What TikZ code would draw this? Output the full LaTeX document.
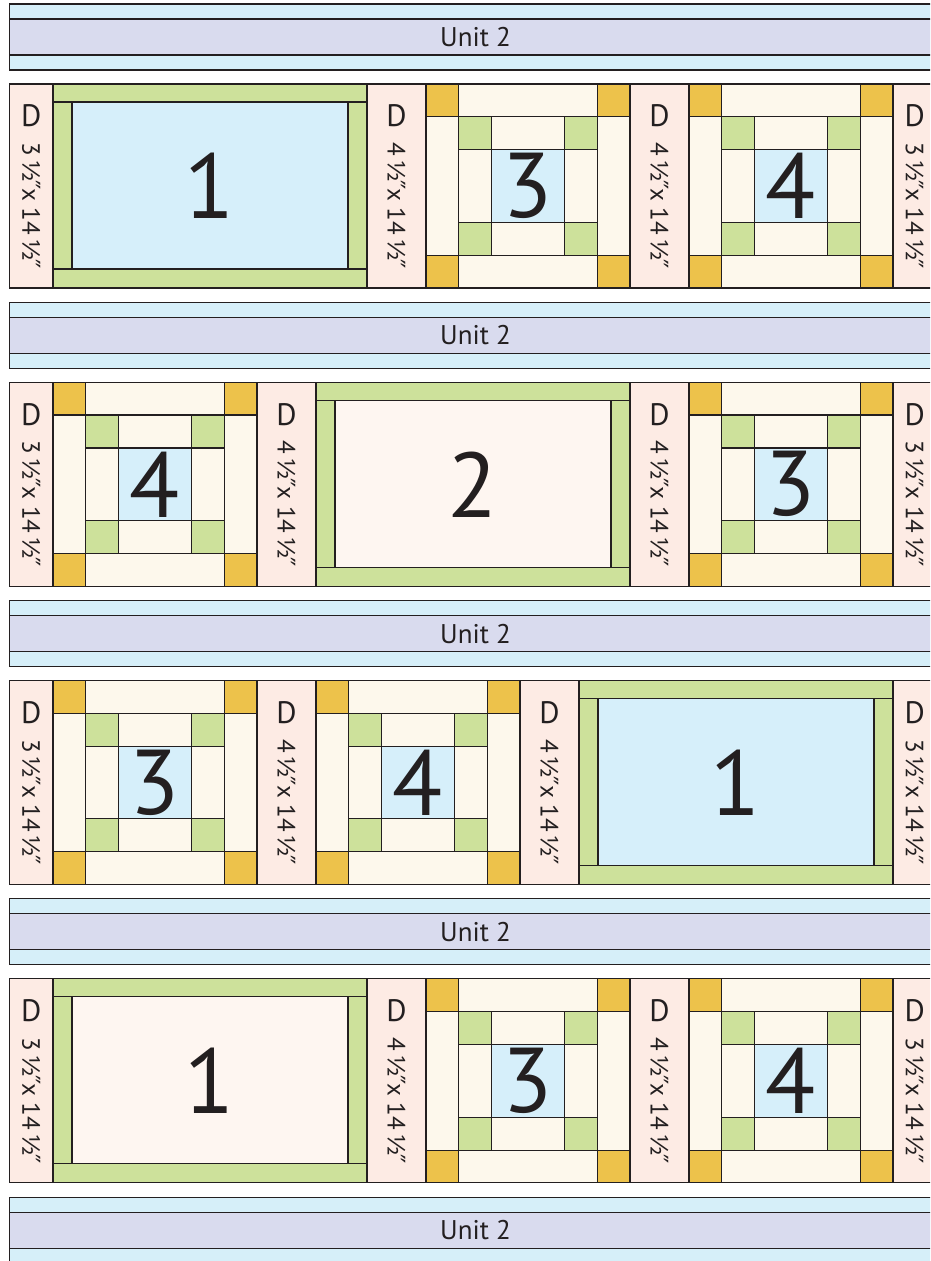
\documentclass[tikz,border=0pt]{standalone}
\usepackage{fontspec}
\setmainfont{PT Sans}
\newfontfamily\dvfont{DejaVu Sans}
\newcommand{\dprime}{{\dvfont\kern-0.05em ″\kern-0.05em}}
\definecolor{lnc}{HTML}{231F20}
\definecolor{bandlb}{HTML}{D6EFF9}
\definecolor{bandpu}{HTML}{D9DBEE}
\definecolor{dpeach}{HTML}{FDEBE4}
\definecolor{grn}{HTML}{CDE19B}
\definecolor{yel}{HTML}{EDC24B}
\definecolor{crm}{HTML}{FDF8EC}
\definecolor{cblue}{HTML}{D6EFFA}
\definecolor{cpink}{HTML}{FEF6F1}
\tikzset{
  ol/.style={draw=lnc, line width=1.1pt},
  dlet/.style={inner sep=0pt, text=lnc, font=\fontsize{31}{31}\selectfont},
  dtxt/.style={inner sep=0pt, text=lnc, rotate=-90, font=\fontsize{25}{25}\selectfont},
  bignum/.style={inner sep=0pt, text=lnc, font=\fontsize{92}{92}\selectfont},
  unittxt/.style={inner sep=0pt, text=lnc, font=\fontsize{27}{27}\selectfont},
}
% D strip: x, y, width, size, name
\newcommand{\Dstrip}[5]{%
  \filldraw[ol, fill=dpeach] (#1,#2) rectangle ++(#3,204);
  \node[dlet] (#5a) at ({#1+#3/2},{#2+32}) {D};
  \node[dtxt] (#5b) at ({#1+#3/2},{#2+121}) {#4\,½\dprime x 14\,½\dprime};
}
% rectangular block: x, y, centre colour, number, name
\newcommand{\Ablock}[5]{%
  \begin{scope}[shift={(#1,#2)}]
    \filldraw[ol, fill=grn] (0,0) rectangle (314,18);
    \filldraw[ol, fill=grn] (0,185) rectangle (314,204);
    \filldraw[ol, fill=grn] (0,18) rectangle (19,185);
    \filldraw[ol, fill=grn] (295,18) rectangle (314,185);
    \filldraw[ol, fill=#3] (19,18) rectangle (295,185);
    \node[bignum] (#5) at (157,102) {#4};
  \end{scope}
}
% square block: x, y, number, name
\newcommand{\Bblock}[4]{%
  \begin{scope}[shift={(#1,#2)}]
    \filldraw[ol, fill=yel] (0,0) rectangle (32.7,32.7);
    \filldraw[ol, fill=yel] (171.3,0) rectangle (204,32.7);
    \filldraw[ol, fill=yel] (0,171.3) rectangle (32.7,204);
    \filldraw[ol, fill=yel] (171.3,171.3) rectangle (204,204);
    \filldraw[ol, fill=crm] (32.7,0) rectangle (171.3,32.7);
    \filldraw[ol, fill=crm] (32.7,171.3) rectangle (171.3,204);
    \filldraw[ol, fill=crm] (0,32.7) rectangle (32.7,171.3);
    \filldraw[ol, fill=crm] (171.3,32.7) rectangle (204,171.3);
    \filldraw[ol, fill=grn] (32.7,32.7) rectangle (65.7,65.7);
    \filldraw[ol, fill=grn] (138.3,32.7) rectangle (171.3,65.7);
    \filldraw[ol, fill=grn] (32.7,138.3) rectangle (65.7,171.3);
    \filldraw[ol, fill=grn] (138.3,138.3) rectangle (171.3,171.3);
    \filldraw[ol, fill=crm] (65.7,32.7) rectangle (138.3,65.7);
    \filldraw[ol, fill=crm] (65.7,138.3) rectangle (138.3,171.3);
    \filldraw[ol, fill=crm] (32.7,65.7) rectangle (65.7,138.3);
    \filldraw[ol, fill=crm] (138.3,65.7) rectangle (171.3,138.3);
    \filldraw[ol, fill=cblue] (65.7,65.7) rectangle (138.3,138.3);
    \node[bignum] (#4) at (102,102) {#3};
  \end{scope}
}
% unit band: y, name
\newcommand{\Uband}[2]{%
  \filldraw[ol, fill=bandlb] (9.5,#1) rectangle (945,{#1+66});
  \filldraw[ol, fill=bandpu] (9.5,{#1+15}) rectangle (945,{#1+51});
  \node[unittxt] (#2) at (475.5,{#1+33}) {Unit 2};
}
\begin{document}
\begin{tikzpicture}[x=1pt,y=-1pt]
\useasboundingbox (0,0) rectangle (930,1261);
\clip (0,0) rectangle (930,1261);
\fill[white] (0,0) rectangle (930,1261);
\Uband{4}{ua}
\Uband{302.3}{ub}
\Uband{600.6}{uc}
\Uband{898.9}{ud}
\Uband{1197.2}{ue}
% row 1
\Dstrip{9.5}{84}{43.5}{3}{da1}
\Ablock{53}{84}{cblue}{1}{na1}
\Dstrip{367}{84}{59}{4}{da2}
\Bblock{426}{84}{3}{na2}
\Dstrip{630}{84}{59}{4}{da3}
\Bblock{689}{84}{4}{na3}
\Dstrip{893}{84}{43.5}{3}{da4}
% row 2
\Dstrip{9.5}{382.3}{43.5}{3}{db1}
\Bblock{53}{382.3}{4}{nb1}
\Dstrip{257}{382.3}{59}{4}{db2}
\Ablock{316}{382.3}{cpink}{2}{nb2}
\Dstrip{630}{382.3}{59}{4}{db3}
\Bblock{689}{382.3}{3}{nb3}
\Dstrip{893}{382.3}{43.5}{3}{db4}
% row 3
\Dstrip{9.5}{680.6}{43.5}{3}{dc1}
\Bblock{53}{680.6}{3}{nc1}
\Dstrip{257}{680.6}{59}{4}{dc2}
\Bblock{316}{680.6}{4}{nc2}
\Dstrip{520}{680.6}{59}{4}{dc3}
\Ablock{579}{680.6}{cblue}{1}{nc3}
\Dstrip{893}{680.6}{43.5}{3}{dc4}
% row 4
\Dstrip{9.5}{978.9}{43.5}{3}{dd1}
\Ablock{53}{978.9}{cpink}{1}{nd1}
\Dstrip{367}{978.9}{59}{4}{dd2}
\Bblock{426}{978.9}{3}{nd2}
\Dstrip{630}{978.9}{59}{4}{dd3}
\Bblock{689}{978.9}{4}{nd3}
\Dstrip{893}{978.9}{43.5}{3}{dd4}
\end{tikzpicture}
\end{document}
